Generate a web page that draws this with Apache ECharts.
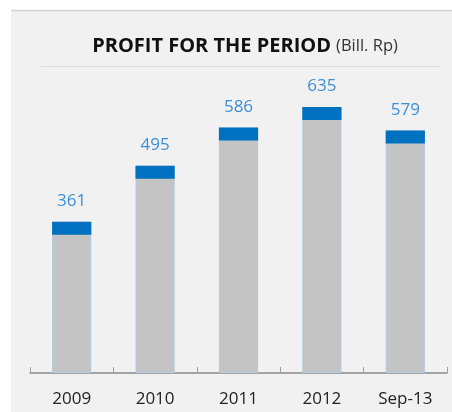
<!DOCTYPE html>
<html>
<head>
<meta charset="utf-8">
<script src="https://cdn.jsdelivr.net/npm/echarts@6/dist/echarts.min.js"></script>
<style>
  html, body { margin: 0; padding: 0; background: #fff; }
  #chart { width: 452px; height: 412px; }
</style>
</head>
<body>
<div id="chart"></div>
<script>
var categories = ['2009', '2010', '2011', '2012', 'Sep-13'];
var profit = [361, 495, 586, 635, 579];

var myChart = echarts.init(document.getElementById('chart'));

var option = {
  animation: false,
  backgroundColor: '#ffffff',
  title: {
    text: '{b|PROFIT FOR THE PERIOD} {n|(Bill. Rp)}',
    left: 240,
    textAlign: 'center',
    top: 31,
    textStyle: {
      rich: {
        b: { fontFamily: 'Open Sans', fontWeight: 'bold', fontSize: 20, color: '#111' },
        n: { fontFamily: 'Open Sans', fontWeight: 'normal', fontSize: 16.5, color: '#333' }
      }
    }
  },
  graphic: [
    {
      type: 'rect', z: -10, silent: true,
      shape: { x: 11, y: 10, width: 441, height: 402 },
      style: { fill: '#f1f1f1' }
    },
    {
      type: 'line', z: -9, silent: true,
      shape: { x1: 11, y1: 10.5, x2: 452, y2: 10.5 },
      style: { stroke: '#d2d2d2', lineWidth: 1.5 }
    },
    {
      type: 'line', z: -9, silent: true,
      shape: { x1: 41, y1: 66.5, x2: 440, y2: 66.5 },
      style: { stroke: '#dadada', lineWidth: 1 }
    }
  ],
  grid: { left: 30, right: 5, top: 38, bottom: 39 },
  xAxis: {
    type: 'category',
    data: categories,
    axisLine: { lineStyle: { color: '#8a8a8a', width: 1.5 } },
    axisTick: { show: true, inside: true, length: 6, lineStyle: { color: '#a0a0a0' } },
    axisLabel: { fontFamily: 'Open Sans', fontSize: 17, color: '#222', margin: 18 }
  },
  yAxis: {
    type: 'value',
    min: 0,
    max: 800,
    show: false,
    splitLine: { show: false }
  },
  series: [
    {
      type: 'bar',
      data: profit,
      barWidth: '47%',
      itemStyle: { color: '#c4c4c4', borderColor: '#b3cbe3', borderWidth: 1 },
      label: {
        show: true,
        position: 'top',
        distance: 12,
        fontFamily: 'Open Sans',
        fontSize: 17,
        color: '#3a8fd8'
      }
    },
    {
      type: 'pictorialBar',
      data: profit,
      barWidth: '47%',
      symbol: 'rect',
      symbolPosition: 'end',
      symbolSize: ['100%', 13],
      symbolOffset: [0, 0],
      itemStyle: { color: '#0070c0' },
      z: 5
    }
  ]
};

myChart.setOption(option);
</script>
</body>
</html>
